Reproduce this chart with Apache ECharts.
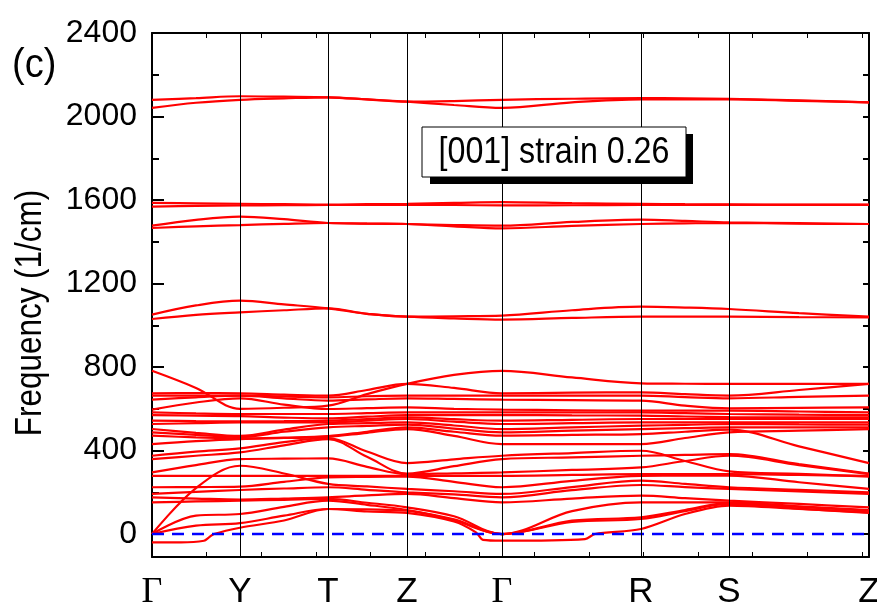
<!DOCTYPE html>
<html><head><meta charset="utf-8">
<script src="https://cdn.jsdelivr.net/npm/echarts@6/dist/echarts.min.js"></script>
<style>html,body{margin:0;padding:0;background:#fff}#c{width:877px;height:606px}</style>
</head><body><div id="c"></div>
<script>
// High-symmetry path
const kLabels = ['Γ', 'Y', 'T', 'Z', 'Γ', 'R', 'S', 'Z'];
const kPos = [0, 88, 176, 255, 350, 489, 577, 717];
// sample positions along the path (symmetry points + one point in each segment)
const pathX = [0, 44, 88, 132, 176, 215, 255, 302, 350, 420, 489, 533, 577, 647, 717];
const yTickValues = [0, 400, 800, 1200, 1600, 2000, 2400];
const yMinorValues = [200, 600, 1000, 1400, 1800, 2200];
const yRightValues = [0, 200, 400, 600, 800, 1000, 1200, 1400, 1600, 1800, 2000, 2200, 2400];
const legendText = '[001] strain 0.26';

// high-frequency branches (values at pathX)
const highBands = [
  [2080, 2088, 2097, 2095, 2092, 2082, 2071, 2074, 2080, 2085, 2088, 2087, 2085, 2077, 2068],
  [2041, 2066, 2080, 2087, 2092, 2082, 2071, 2055, 2041, 2068, 2082, 2082, 2082, 2075, 2068],
  [1586, 1584, 1582, 1580, 1578, 1580, 1582, 1586, 1590, 1585, 1582, 1580, 1579, 1578, 1578],
  [1568, 1572, 1574, 1575, 1576, 1576, 1576, 1576, 1574, 1575, 1576, 1576, 1577, 1577, 1577],
  [1477, 1505, 1520, 1508, 1490, 1487, 1485, 1480, 1477, 1495, 1506, 1500, 1493, 1489, 1485],
  [1466, 1474, 1480, 1486, 1490, 1487, 1485, 1474, 1464, 1476, 1485, 1488, 1490, 1487, 1485],
  [1051, 1095, 1118, 1100, 1081, 1055, 1041, 1043, 1046, 1072, 1089, 1085, 1078, 1058, 1041],
  [1030, 1050, 1062, 1072, 1081, 1055, 1041, 1033, 1027, 1035, 1041, 1041, 1041, 1039, 1038]
];

// low-frequency branches (values at pathX)
const lowBands = [
  [782, 700, 600, 605, 615, 670, 719, 762, 782, 750, 722, 720, 719, 719, 719],
  [674, 675, 674, 668, 663, 690, 719, 700, 674, 677, 679, 670, 663, 690, 719],
  [663, 663, 663, 659, 655, 660, 663, 663, 663, 663, 663, 656, 650, 657, 663],
  [644, 655, 663, 650, 639, 645, 650, 647, 644, 641, 639, 615, 602, 604, 607],
  [596, 630, 650, 620, 599, 603, 607, 600, 596, 593, 591, 591, 591, 587, 583],
  [583, 578, 575, 575, 575, 579, 583, 583, 583, 583, 583, 579, 575, 572, 570],
  [570, 567, 565, 558, 554, 562, 570, 570, 570, 568, 567, 563, 560, 559, 559],
  [543, 541, 540, 541, 543, 551, 559, 550, 543, 547, 551, 551, 551, 551, 551],
  [527, 531, 535, 535, 535, 543, 551, 538, 527, 531, 535, 535, 535, 535, 535],
  [503, 485, 470, 500, 527, 531, 535, 520, 503, 511, 519, 523, 527, 525, 524],
  [487, 475, 465, 490, 511, 518, 524, 505, 487, 495, 503, 507, 511, 511, 511],
  [471, 463, 458, 462, 469, 490, 511, 490, 471, 475, 479, 490, 500, 420, 340],
  [431, 445, 455, 460, 465, 485, 503, 470, 431, 431, 431, 460, 487, 495, 503],
  [375, 395, 410, 440, 460, 395, 340, 358, 375, 388, 399, 350, 300, 288, 275],
  [359, 375, 391, 425, 455, 370, 290, 325, 359, 367, 375, 379, 383, 335, 290],
  [295, 330, 359, 361, 362, 322, 287, 291, 295, 307, 319, 350, 375, 330, 287],
  [279, 279, 279, 279, 279, 279, 279, 279, 279, 283, 287, 287, 287, 283, 279],
  [224, 225, 227, 250, 271, 274, 275, 250, 224, 255, 279, 280, 280, 248, 216],
  [192, 202, 211, 218, 224, 212, 200, 190, 176, 210, 235, 225, 216, 204, 192],
  [176, 170, 165, 170, 176, 185, 192, 172, 152, 170, 184, 172, 160, 144, 128],
  [152, 156, 160, 164, 168, 150, 128, 85, 0, 110, 152, 152, 152, 133, 115],
  [0, 220, 327, 290, 240, 228, 216, 205, 192, 225, 256, 240, 224, 212, 200],
  [0, 88, 96, 130, 160, 140, 115, 70, 0, 64, 80, 115, 148, 130, 112],
  [0, 40, 52, 88, 120, 118, 112, 65, 0, 58, 72, 110, 144, 122, 101]
];

// branch with small imaginary dips near Γ (own sample positions)
const dipBandX = [0, 29, 52, 57, 62, 88, 132, 176, 215, 255, 302, 324, 331, 350, 433, 443, 489, 533, 577, 647, 717];
const dipBandY = [-40, -40, -32, -16, 0, 30, 65, 120, 108, 101, 60, 8, -28, -32, -24, 0, 24, 96, 136, 120, 104];

// zero-frequency reference line
const zeroX = [0, 717];
const zeroY = [0, 0];

const SANS = "'Liberation Sans', Arial, sans-serif";
const chart = echarts.init(document.getElementById('c'), null, {renderer: 'canvas'});

const series = [];
series.push({
  name: 'kLines', type: 'line', data: [], z: 1, silent: true,
  markLine: {
    silent: true, symbol: ['none', 'none'], label: {show: false},
    lineStyle: {color: '#000', width: 1, type: 'solid'},
    emphasis: {disabled: true},
    data: kPos.slice(1, kPos.length - 1).map(v => ({xAxis: v}))
  }
});
highBands.concat(lowBands).forEach((b, i) => {
  series.push({
    name: 'band' + i, type: 'line', z: 2, silent: true,
    showSymbol: false, smooth: 0.35,
    lineStyle: {color: '#ff0000', width: 2.2},
    data: b.map((v, j) => [pathX[j], v])
  });
});
series.push({
  name: 'dip', type: 'line', z: 2, silent: true, showSymbol: false, smooth: 0.3,
  lineStyle: {color: '#ff0000', width: 2.2},
  data: dipBandY.map((v, j) => [dipBandX[j], v])
});
series.push({
  name: 'zero', type: 'line', z: 3, silent: true, showSymbol: false,
  lineStyle: {color: '#0000ff', width: 2.5, type: [12, 8]},
  data: zeroY.map((v, j) => [zeroX[j], v])
});

const yMin = -110, yMax = 2400;
const option = {
  animation: false,
  backgroundColor: '#fff',
  grid: {left: 152, right: 8, top: 33, bottom: 49, containLabel: false, outerBoundsMode: 'none'},
  xAxis: [
    {
      type: 'value', position: 'bottom', min: 0, max: 717, interval: 54.6,
      axisLine: {show: true, onZero: false, lineStyle: {color: '#000', width: 2}},
      axisTick: {show: true, inside: true, length: 5, lineStyle: {color: '#000', width: 1}},
      splitLine: {show: false},
      axisLabel: {
        show: true, customValues: kPos, margin: 18,
        formatter: (v) => {
          const i = kPos.indexOf(v);
          const t = i >= 0 ? kLabels[i] : '';
          return t === 'Γ' ? '{g|Γ}' : '{s|' + t + '}';
        },
        rich: {
          g: {fontFamily: "'Liberation Serif', 'Times New Roman', serif", fontSize: 36, color: '#000'},
          s: {fontFamily: SANS, fontSize: 35, color: '#000'}
        }
      }
    },
    {
      type: 'value', position: 'top', min: 0, max: 717, interval: 54.6,
      axisLine: {show: true, onZero: false, lineStyle: {color: '#000', width: 2}},
      axisTick: {show: true, inside: true, length: 5, lineStyle: {color: '#000', width: 1}},
      splitLine: {show: false}, axisLabel: {show: false}
    }
  ],
  yAxis: [
    {
      type: 'value', position: 'left', min: yMin, max: yMax,
      axisLine: {show: true, onZero: false, lineStyle: {color: '#000', width: 2}},
      axisTick: {show: true, inside: true, length: 12, customValues: yTickValues, lineStyle: {color: '#000', width: 2}},
      axisLabel: {show: true, customValues: yTickValues, margin: 15, fontFamily: SANS, fontSize: 32, color: '#000',
                  formatter: (v) => String(v)},
      splitLine: {show: false}
    },
    {
      type: 'value', position: 'left', min: yMin, max: yMax,
      axisLine: {show: false},
      axisTick: {show: true, inside: true, length: 7, customValues: yMinorValues, lineStyle: {color: '#000', width: 2}},
      axisLabel: {show: false}, splitLine: {show: false}
    },
    {
      type: 'value', position: 'right', min: yMin, max: yMax,
      axisLine: {show: true, onZero: false, lineStyle: {color: '#000', width: 2}},
      axisTick: {show: true, inside: true, length: 6, customValues: yRightValues, lineStyle: {color: '#000', width: 2}},
      axisLabel: {show: false}, splitLine: {show: false}
    }
  ],
  graphic: [
    {type: 'text', x: 12, y: 66, z: 10, scaleX: 0.95,
     style: {text: '(c)', font: '40px ' + SANS, fill: '#000', verticalAlign: 'middle'}},
    {type: 'text', x: 31, y: 313, rotation: Math.PI / 2, scaleX: 0.85, z: 10,
     style: {text: 'Frequency (1/cm)', font: '37px ' + SANS, fill: '#000', align: 'center', verticalAlign: 'middle'}},
    {type: 'rect', shape: {x: 430, y: 134, width: 263, height: 50}, z: 20,
     style: {fill: '#000'}},
    {type: 'rect', shape: {x: 422, y: 127, width: 264, height: 50}, z: 21,
     style: {fill: '#fff', stroke: '#000', lineWidth: 1}},
    {type: 'text', x: 554, y: 153, scaleX: 0.87, z: 22,
     style: {text: legendText, font: '37px ' + SANS, fill: '#000', align: 'center', verticalAlign: 'middle'}}
  ],
  series: series
};
chart.setOption(option);
</script>
</body></html>
